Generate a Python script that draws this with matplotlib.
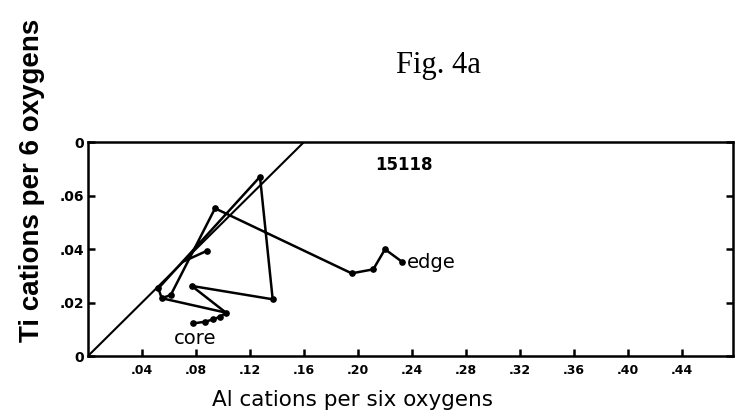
import matplotlib
matplotlib.use('Agg')
import matplotlib.pyplot as plt
import numpy as np

# zoning path, core -> edge (Al, Ti cations per six oxygens)
al_path = [0.078, 0.0867, 0.0928, 0.0978, 0.1022, 0.0768, 0.1368, 0.1274,
           0.0521, 0.0546, 0.0613, 0.0941, 0.1953, 0.2113, 0.2200, 0.2324]
ti_path = [0.0122, 0.0128, 0.0137, 0.0147, 0.0162, 0.0262, 0.0212, 0.0670,
           0.0253, 0.0216, 0.0228, 0.0552, 0.0309, 0.0324, 0.0399, 0.0353]

# extra segments drawn in the original
al_spur1 = [0.1022, 0.0546]
ti_spur1 = [0.0162, 0.0216]
al_spur2 = [0.0884, 0.0706]
ti_spur2 = [0.0394, 0.0353]

# Ti:Al = 1:2 reference line
al_ref = [0.0, 0.16]
ti_ref = [0.0, 0.08]

x_ticks = [0.04, 0.08, 0.12, 0.16, 0.20, 0.24, 0.28, 0.32, 0.36, 0.40, 0.44]
x_labels = ['.04', '.08', '.12', '.16', '.20', '.24', '.28', '.32', '.36', '.40', '.44']
y_ticks = [0.0, 0.02, 0.04, 0.06, 0.08]
y_labels = ['0', '.02', '.04', '.06', '0']

W, H = 738, 416
fig = plt.figure(figsize=(W / 100, H / 100), dpi=100)
ax = fig.add_axes([88 / W, (H - 356) / H, (733 - 88) / W, (356 - 142) / H])

ax.plot(al_ref, ti_ref, color='black', lw=1.5)
ax.plot(al_path, ti_path, color='black', lw=1.8, marker='o', ms=3.8)
ax.plot(al_spur1, ti_spur1, color='black', lw=1.8)
ax.plot(al_spur2, ti_spur2, color='black', lw=1.8, marker='o', ms=3.8, markevery=[0])

ax.set_xlim(0, (733 - 88) / 1350)
ax.set_ylim(0, 0.08)

ax.set_xticks(x_ticks)
ax.set_xticklabels(x_labels, fontweight='bold', fontsize=9)
ax.set_yticks(y_ticks)
ax.set_yticklabels(y_labels, fontweight='bold', fontsize=10)
ax.tick_params(axis='x', direction='in', length=5, width=1.8, pad=6)
ax.tick_params(axis='y', direction='in', length=5, width=1.8, pad=3, right=True)
for s in ax.spines.values():
    s.set_linewidth(1.8)

ax.text(0.2363, 0.0351, 'edge', fontsize=14, va='center', ha='left')
ax.text(0.0793, 0.0067, 'core', fontsize=14, va='center', ha='center')
ax.text(0.234, 0.0714, '15118', fontsize=12, fontweight='bold', va='center', ha='center')

fig.text(352 / W, 1 - 400 / H, 'Al cations per six oxygens', fontsize=15.5,
         ha='center', va='center')
fig.text(32 / W, 1 - 180 / H, 'Ti cations per 6 oxygens', fontsize=20,
         fontweight='bold', rotation=90, ha='center', va='center',
         family=['Liberation Sans', 'DejaVu Sans'])
fig.text(438 / W, 1 - 65 / H, 'Fig. 4a', fontsize=22, family='Liberation Serif',
         ha='center', va='center')

fig.savefig('out.png', dpi=100)
